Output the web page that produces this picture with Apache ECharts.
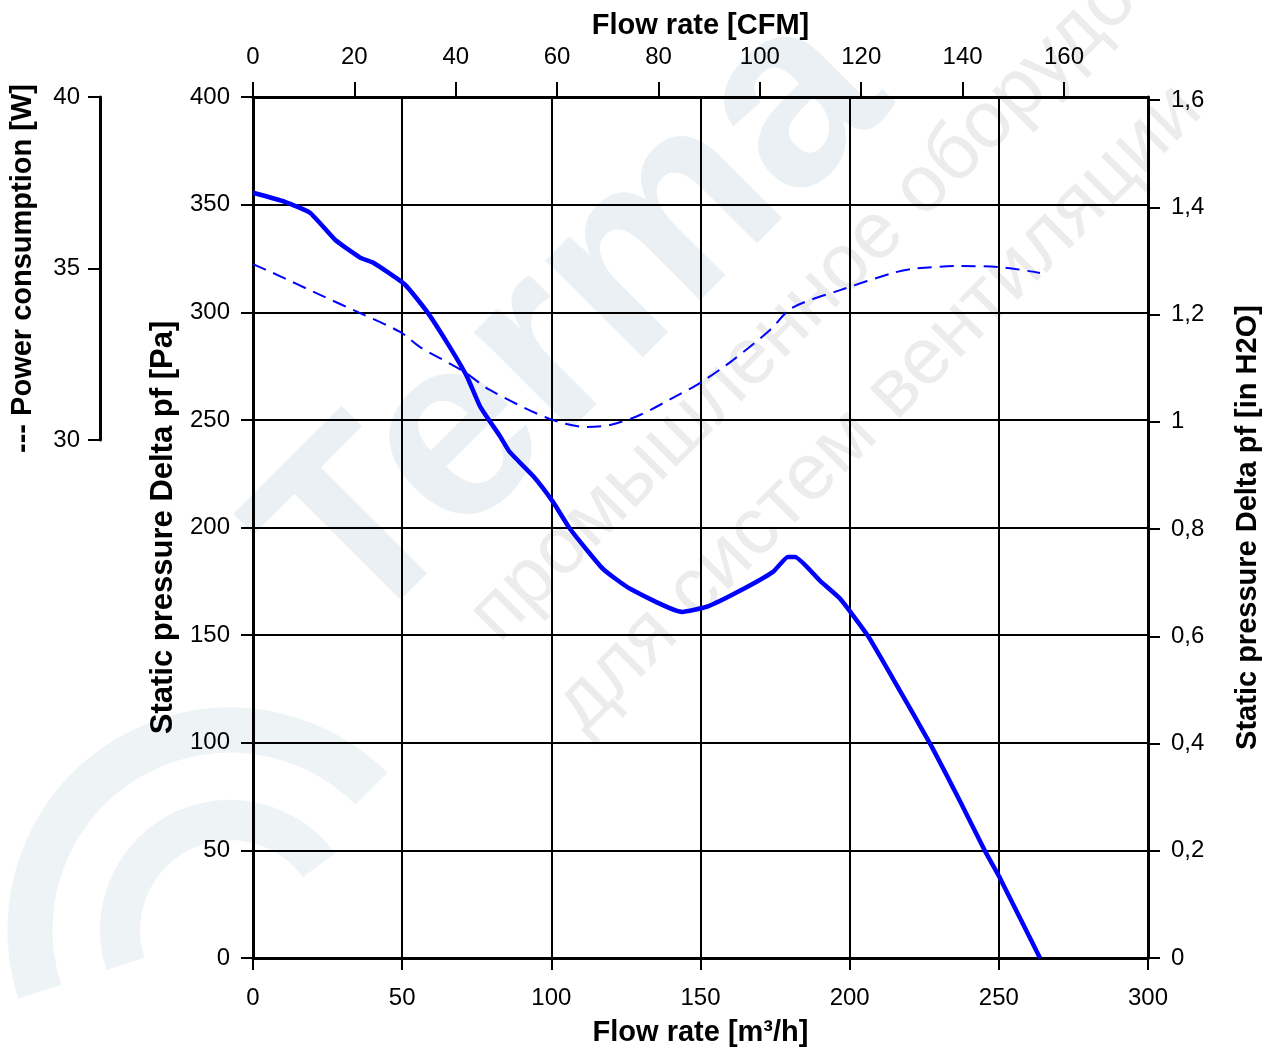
<!DOCTYPE html>
<html>
<head>
<meta charset="utf-8">
<script src="https://cdn.jsdelivr.net/npm/echarts@6/dist/echarts.min.js"></script>
<style>
  html, body { margin: 0; padding: 0; background: #fff; }
  #chart { width: 1272px; height: 1052px; }
</style>
</head>
<body>
<div id="chart"></div>
<script>
// данные кривой давления: [м3/ч, Па]
var pressureFlow = [0, 10.7, 19.1, 27.5, 35.9, 40.2, 50.9, 58.3, 65.0, 71.7, 76.1, 82.8, 86.1, 93.9, 100.6, 106.3, 117.3, 126.4, 143.8, 152.2, 163.2, 174.3, 179.3, 181.7, 190.1, 196.8, 206.1, 214.5, 226.9, 237.0, 245.4, 250.4, 263.8];
var pressurePa = [355.5, 351.3, 346.2, 333.7, 325.4, 323.1, 312.9, 300.3, 286.0, 270.2, 256.3, 242.4, 235.0, 223.9, 211.8, 199.3, 180.8, 171.5, 160.8, 163.2, 170.6, 179.4, 186.3, 186.3, 175.2, 166.9, 149.7, 129.8, 99.7, 72.8, 49.6, 37.1, 0];

// потребляемая мощность: [м3/ч, Вт]
var powerFlow = [0, 6.7, 22.5, 35.9, 49.3, 56.0, 70.4, 79.4, 99.6, 112.0, 119.7, 129.7, 143.1, 149.8, 160.9, 173.3, 180.7, 196.8, 214.5, 221.2, 236.0, 250.4, 263.8];
var powerW = [35.13, 34.87, 34.23, 33.70, 33.15, 32.71, 32.01, 31.46, 30.61, 30.38, 30.44, 30.73, 31.34, 31.66, 32.33, 33.21, 33.85, 34.37, 34.87, 34.99, 35.07, 35.04, 34.87];

var flowMax = 300;      // m3/h
var paMax = 400;
var cfmPerM3h = 1 / 1.699;
var paPerInH2O = 249.0889;

function zip(a, b) {
  return a.map(function (v, i) { return [v, b[i]]; });
}

var chart = echarts.init(document.getElementById('chart'));

var font = 'Liberation Sans, Arial, sans-serif';
var lblStyle = { color: '#000', fontSize: 24, fontFamily: font };
function nameStyle(size) {
  return { color: '#000', fontSize: size, fontWeight: 'bold', fontFamily: font };
}
var thick = { show: true, onZero: false, lineStyle: { color: '#000', width: 3 } };
function ticks(len) {
  return { show: true, length: len, lineStyle: { color: '#000', width: 2 } };
}

var option = {
  backgroundColor: '#fff',
  animation: false,
  grid: [
    { left: 253, right: 124, top: 97, bottom: 92 },
    { left: 253, right: 124, top: 97, bottom: 612 }
  ],
  // водяной знак
  graphic: [
    { type: 'arc', z: -10, shape: { cx: 230, cy: 930, r: 200, startAngle: Math.PI * 0.9, endAngle: Math.PI * 1.75 },
      style: { stroke: '#eef3f5', lineWidth: 45, fill: 'none' } },
    { type: 'arc', z: -10, shape: { cx: 230, cy: 930, r: 110, startAngle: Math.PI * 0.9, endAngle: Math.PI * 1.8 },
      style: { stroke: '#eef3f5', lineWidth: 40, fill: 'none' } },
    { type: 'text', z: -10, rotation: Math.PI / 4, x: 215, y: 500,
      style: { text: 'Terma', fontSize: 260, fontWeight: 'bold', fontFamily: font, fill: '#eaf0f3' } },
    { type: 'text', z: -10, rotation: Math.PI / 4, x: 455, y: 600,
      style: { text: 'промышленное оборудование', fontSize: 80, fontFamily: font, fill: '#ececec' } },
    { type: 'text', z: -10, rotation: Math.PI / 4, x: 540, y: 690,
      style: { text: 'для систем вентиляции', fontSize: 80, fontFamily: font, fill: '#ececec' } }
  ],
  xAxis: [
    {
      gridIndex: 0, type: 'value', min: 0, max: flowMax, interval: 50,
      position: 'bottom',
      name: 'Flow rate [m³/h]', nameLocation: 'middle', nameGap: 60, nameTextStyle: nameStyle(29),
      axisLine: thick,
      axisTick: ticks(12),
      axisLabel: Object.assign({ margin: 28 }, lblStyle),
      splitLine: { show: true, lineStyle: { color: '#000', width: 2 } }
    },
    {
      gridIndex: 0, type: 'value', min: 0, max: flowMax * cfmPerM3h, interval: 20,
      position: 'top',
      name: 'Flow rate [CFM]', nameLocation: 'middle', nameGap: 56, nameTextStyle: nameStyle(29),
      axisLine: thick,
      axisTick: ticks(15),
      axisLabel: Object.assign({ margin: 28, showMaxLabel: false }, lblStyle),
      splitLine: { show: false }
    },
    {
      gridIndex: 1, type: 'value', min: 0, max: flowMax, show: false
    }
  ],
  yAxis: [
    {
      gridIndex: 0, type: 'value', min: 0, max: paMax, interval: 50,
      position: 'left',
      name: 'Static pressure Delta pf [Pa]', nameLocation: 'middle', nameGap: 73, nameTextStyle: nameStyle(31),
      axisLine: thick,
      axisTick: ticks(12),
      axisLabel: Object.assign({ margin: 23 }, lblStyle),
      splitLine: { show: true, lineStyle: { color: '#000', width: 2 } }
    },
    {
      gridIndex: 0, type: 'value', min: 0, max: paMax / paPerInH2O, interval: 0.2,
      position: 'right',
      name: 'Static pressure Delta pf [in H2O]', nameLocation: 'middle', nameGap: 85, nameRotate: 90, nameTextStyle: nameStyle(29),
      axisLine: thick,
      axisTick: ticks(12),
      axisLabel: Object.assign({
        margin: 23, showMaxLabel: false,
        formatter: function (v) { return String(Math.round(v * 10) / 10).replace('.', ','); }
      }, lblStyle),
      splitLine: { show: false }
    },
    {
      gridIndex: 1, type: 'value', min: 30, max: 40, interval: 5,
      position: 'left', offset: 153,
      name: '--- Power consumption [W]', nameLocation: 'middle', nameGap: 63, nameTextStyle: nameStyle(29),
      axisLine: thick,
      axisTick: ticks(12),
      axisLabel: Object.assign({ margin: 20 }, lblStyle),
      splitLine: { show: false }
    }
  ],
  series: [
    {
      name: 'Static pressure', type: 'line', xAxisIndex: 0, yAxisIndex: 0,
      data: zip(pressureFlow, pressurePa),
      showSymbol: false, smooth: 0.15, z: 5,
      lineStyle: { color: '#0000ff', width: 4.5 }
    },
    {
      name: 'Power consumption', type: 'line', xAxisIndex: 2, yAxisIndex: 2,
      data: zip(powerFlow, powerW),
      showSymbol: false, smooth: 0.3, z: 5,
      lineStyle: { color: '#0000ff', width: 2, type: [14, 8] }
    }
  ]
};

chart.setOption(option);
</script>
</body>
</html>
